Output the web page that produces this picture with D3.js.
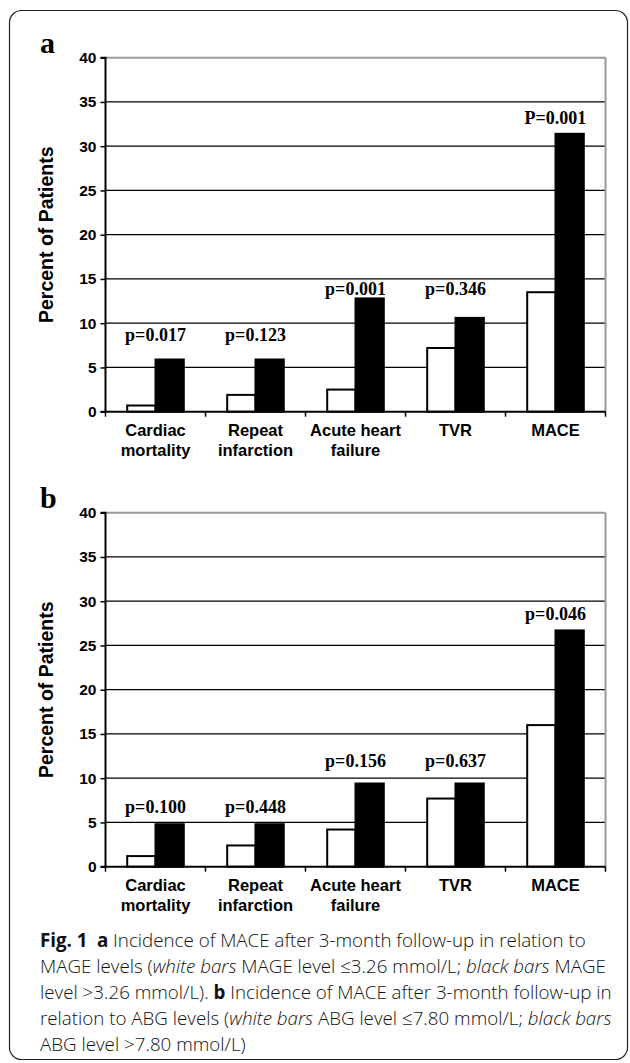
<!DOCTYPE html>
<html><head><meta charset="utf-8">
<script src="https://cdn.jsdelivr.net/npm/d3@7/dist/d3.min.js"></script>
<style>
html,body{margin:0;padding:0;background:#fff;}
svg{display:block;}
</style></head>
<body>
<svg id="c" width="630" height="1063"></svg>
<script>
// ---- data ----
const categories = ["Cardiac mortality", "Repeat infarction", "Acute heart failure", "TVR", "MACE"];
const categoryLines = [["Cardiac", "mortality"], ["Repeat", "infarction"], ["Acute heart", "failure"], ["TVR"], ["MACE"]];
const yTicks = [0, 5, 10, 15, 20, 25, 30, 35, 40];

const aWhite = [0.7, 1.9, 2.5, 7.2, 13.5];
const aBlack = [5.9, 5.9, 12.8, 10.6, 31.4];
const aP = ["p=0.017", "p=0.123", "p=0.001", "p=0.346", "P=0.001"];
const aPLevel = [8.0, 8.0, 13.2, 13.2, 32.5];

const bWhite = [1.2, 2.4, 4.2, 7.7, 16.0];
const bBlack = [4.8, 4.8, 9.4, 9.4, 26.7];
const bP = ["p=0.100", "p=0.448", "p=0.156", "p=0.637", "p=0.046"];
const bPLevel = [6.1, 6.1, 11.3, 11.3, 27.9];

const yTitle = "Percent of Patients";

const captionLines = [
  [["b","Fig. 1"],["n","\u2002"],["b","a"],["n"," Incidence of MACE after 3-month follow-up in relation to"]],
  [["n","MAGE levels ("],["i","white bars"],["n"," MAGE level \u22643.26 mmol/L; "],["i","black bars"],["n"," MAGE"]],
  [["n","level >3.26 mmol/L). "],["b","b"],["n"," Incidence of MACE after 3-month follow-up in"]],
  [["n","relation to ABG levels ("],["i","white bars"],["n"," ABG level \u22647.80 mmol/L; "],["i","black bars"]],
  [["n","ABG level >7.80 mmol/L)"]]
];

// ---- drawing ----
const svg = d3.select("#c");
svg.append("rect").attr("x", 9.5).attr("y", 10.5).attr("width", 618).attr("height", 1049)
  .attr("rx", 12).attr("fill", "none").attr("stroke", "#222").attr("stroke-width", 1.2);

const left = 105.5, right = 605.5, plotH = 354;
const sans = "'Liberation Sans', Arial, sans-serif";
const serif = "'Liberation Serif', 'Times New Roman', serif";

function drawPanel(top, white, black, pText, pLevel, letter) {
  const g = svg.append("g");
  const y = d3.scaleLinear().domain([0, 40]).range([top + plotH, top]);
  const x0 = d3.scaleBand().domain(d3.range(categories.length)).range([left, right]).padding(0);
  const bw = x0.bandwidth();
  const x1 = d3.scaleBand().domain(["w", "b"]).range([0.217 * bw, 0.783 * bw]).padding(0);

  // gridlines
  g.selectAll("line.grid").data(yTicks.filter(t => t > 0 && t < 40)).enter().append("line")
    .attr("x1", left).attr("x2", right).attr("y1", d => y(d)).attr("y2", d => y(d))
    .attr("stroke", "#000").attr("stroke-width", 1.3);
  // top and right frame (grey)
  g.append("line").attr("x1", left).attr("x2", right).attr("y1", y(40)).attr("y2", y(40))
    .attr("stroke", "#999").attr("stroke-width", 2);
  g.append("line").attr("x1", right).attr("x2", right).attr("y1", y(40)).attr("y2", y(0))
    .attr("stroke", "#999").attr("stroke-width", 2);

  // bars
  const rows = categories.map((c, i) => ({ i, w: white[i], b: black[i] }));
  const grp = g.selectAll("g.cat").data(rows).enter().append("g")
    .attr("transform", d => `translate(${x0(d.i)},0)`);
  grp.append("rect").attr("x", x1("w")).attr("width", x1.bandwidth())
    .attr("y", d => y(d.w)).attr("height", d => y(0) - y(d.w))
    .attr("fill", "#fff").attr("stroke", "#000").attr("stroke-width", 2);
  grp.append("rect").attr("x", x1("b")).attr("width", x1.bandwidth())
    .attr("y", d => y(d.b)).attr("height", d => y(0) - y(d.b))
    .attr("fill", "#000").attr("stroke", "#000").attr("stroke-width", 2);

  // p labels
  g.selectAll("text.p").data(rows).enter().append("text")
    .attr("x", d => x0(d.i) + bw / 2).attr("y", d => y(pLevel[d.i]))
    .attr("text-anchor", "middle").attr("font-family", serif).attr("font-weight", "bold")
    .attr("font-size", 18).text(d => pText[d.i]);

  // y axis
  const ya = d3.axisLeft(y).tickValues(yTicks).tickSize(5).tickPadding(4).tickFormat(d3.format("d"));
  const yg = g.append("g").attr("transform", `translate(${left},0)`).call(ya);
  yg.select(".domain").attr("stroke", "#000").attr("stroke-width", 2).attr("d", `M-5,${y(40)}H0V${y(0)}`);
  yg.selectAll(".tick line").attr("stroke", "#000").attr("stroke-width", 1.5);
  yg.selectAll(".tick text").attr("font-family", sans).attr("font-weight", "bold").attr("font-size", 15.5).attr("fill", "#000");

  // x axis
  g.append("line").attr("x1", left - 5).attr("x2", right).attr("y1", y(0)).attr("y2", y(0))
    .attr("stroke", "#000").attr("stroke-width", 2);
  const bounds = x0.domain().map(i => x0(i)).concat([x0.range()[1]]);
  g.selectAll("line.xt").data(bounds).enter().append("line")
    .attr("x1", d => d).attr("x2", d => d).attr("y1", y(0)).attr("y2", y(0) + 5)
    .attr("stroke", "#000").attr("stroke-width", 1.5);
  const lab = g.selectAll("text.cat").data(rows).enter().append("text")
    .attr("text-anchor", "middle").attr("font-family", sans).attr("font-weight", "bold")
    .attr("font-size", 16.5).attr("fill", "#000");
  lab.selectAll("tspan").data(d => categoryLines[d.i].map(t => ({ t, i: d.i }))).enter().append("tspan")
    .attr("x", d => x0(d.i) + bw / 2).attr("y", (d, k) => y(0) + 24 + k * 20.5).text(d => d.t);

  // y title
  g.append("text").attr("transform", `translate(53,${(y(0) + y(40)) / 2}) rotate(-90)`)
    .attr("text-anchor", "middle").attr("font-family", sans).attr("font-weight", "bold")
    .attr("font-size", 19.5).text(yTitle);

  // panel letter
  g.append("text").attr("x", 40).attr("y", top - 4.5).attr("font-family", serif)
    .attr("font-weight", "bold").attr("font-size", 30).text(letter);
}

drawPanel(57.7, aWhite, aBlack, aP, aPLevel, "a");
drawPanel(512.7, bWhite, bBlack, bP, bPLevel, "b");

// caption
const cap = svg.append("g");
const capFont = "'Open Sans', 'Noto Sans', sans-serif";
const capTexts = captionLines.map((line, k) => {
  const t = cap.append("text").attr("x", 40).attr("y", 947 + k * 26)
    .attr("font-family", capFont).attr("font-size", 18).attr("fill", "#111");
  line.forEach(([s, str]) => {
    t.append("tspan").text(str)
      .attr("font-weight", s === "b" ? 700 : 300)
      .attr("font-style", s === "i" ? "italic" : "normal");
  });
  return t;
});
// fit the caption block to the available width
const widest = d3.max(capTexts, t => t.node().getComputedTextLength());
const fs = 18 * 572 / widest;
capTexts.forEach(t => t.attr("font-size", fs));
</script>
</body></html>
